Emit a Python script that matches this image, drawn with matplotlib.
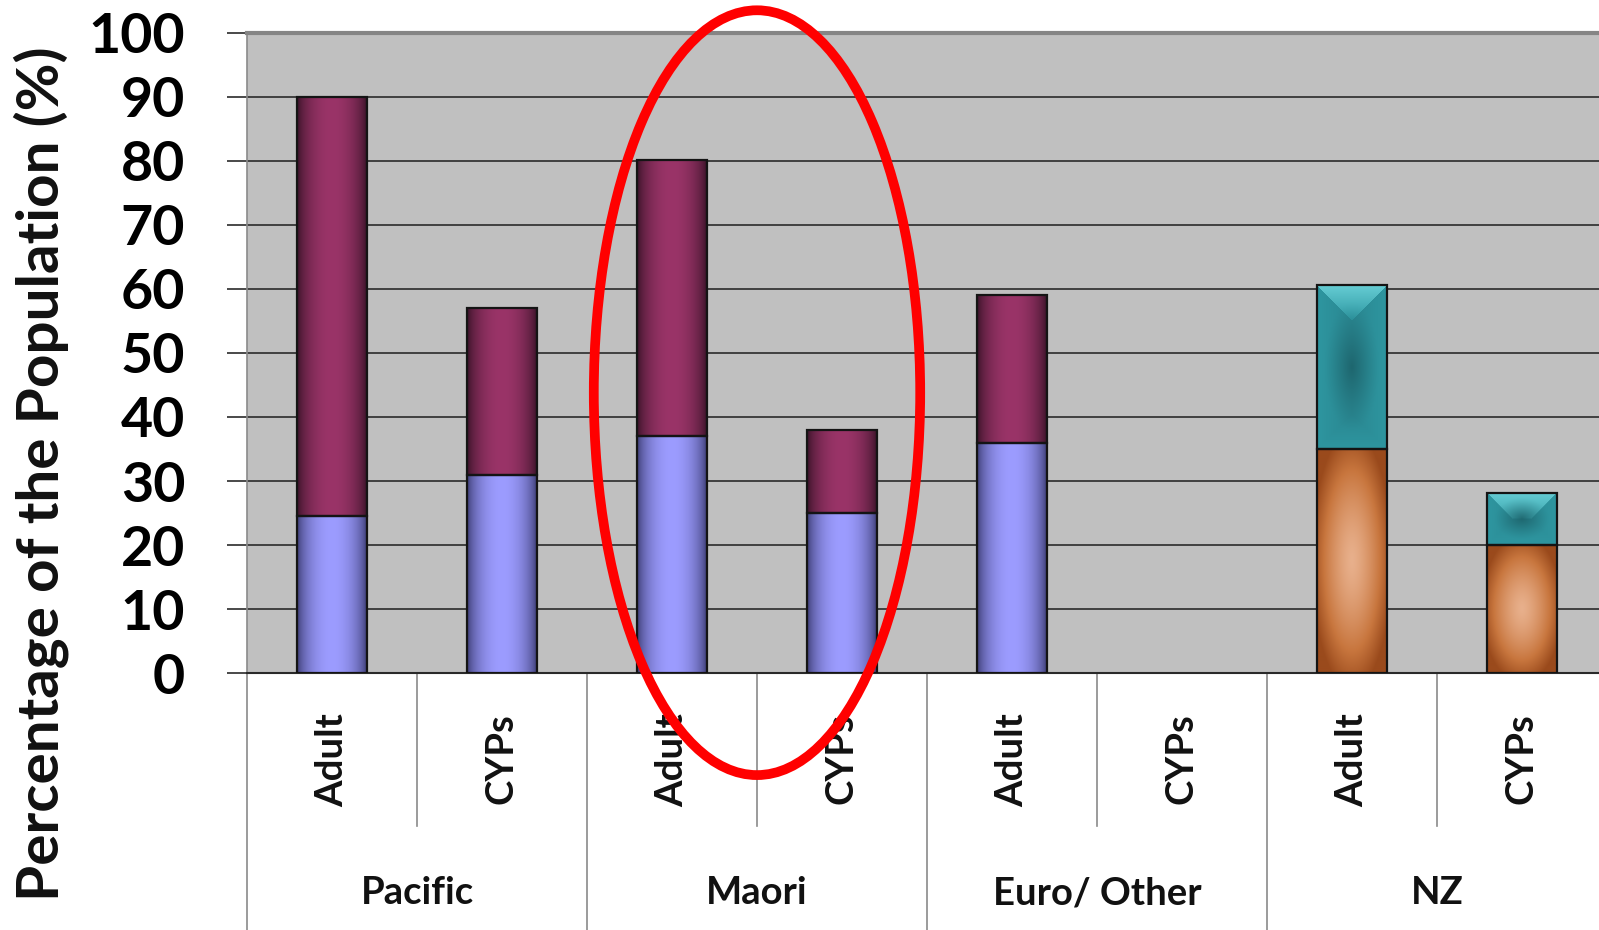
import numpy as np
import matplotlib.pyplot as plt
import matplotlib.transforms as mtransforms
from matplotlib.patches import Ellipse
from matplotlib.colors import to_rgb

plt.rcParams['font.family'] = ['Lato', 'DejaVu Sans']
plt.rcParams['font.weight'] = 'bold'

groups = ['Pacific', 'Maori', 'Euro/ Other', 'NZ']
ages = ['Adult', 'CYPs']
# lower and upper segment of each stacked bar, in group order
lower = [24.5, 31.0, 37.0, 25.0, 36.0, 0.0, 35.0, 20.0]
upper = [65.5, 26.0, 43.2, 13.0, 23.0, 0.0, 25.6, 8.2]
lower_style = ['blue'] * 6 + ['orange'] * 2
upper_style = ['maroon'] * 6 + ['teal'] * 2


def lerp(c1, c2, t):
    c1 = np.array(to_rgb(c1))
    c2 = np.array(to_rgb(c2))
    t = np.clip(t, 0, 1)[..., None]
    return c1 * (1 - t) + c2 * t


def bar_texture(style, wpx, hpx):
    nx = max(int(round(wpx)), 2)
    ny = max(int(round(hpx)), 2)
    X, Y = np.meshgrid(np.arange(nx) + 0.5, np.arange(ny) + 0.5)
    u = X / nx * 2 - 1
    v = Y / ny * 2 - 1
    if style in ('blue', 'maroon'):
        # cylinder shading across the bar
        light, dark = ('#9C9CFF', '#2E2E5E') if style == 'blue' else ('#9A3468', '#2A0E1E')
        f = np.cos(u * np.pi / 2) ** 0.55
        return lerp(dark, light, f)
    if style == 'orange':
        r = np.sqrt((u * 1.0) ** 2 + v ** 2)
        col = lerp('#E8B08C', '#C8763E', np.clip(r / 0.8, 0, 1) ** 1.4)
        edge = np.clip((r - 0.8) / 0.35, 0, 1)
        return col * (1 - edge[..., None]) + np.array(to_rgb('#9A4A1C')) * edge[..., None]
    # teal: bevelled pyramid
    d = np.stack([ny - Y, Y, X, nx - X])
    face = np.argmin(d, axis=0)
    depth = d.min(axis=0) / (nx / 2)
    top = lerp('#66CDD4', '#2E98A2', depth)
    side = lerp('#2E96A0', '#2A8791', depth)
    base = np.where((face == 0)[..., None], top, side)
    r = np.sqrt(u ** 2 + v ** 2)
    t = np.clip(1 - r / 0.8, 0, 1) ** 1.3 * 0.8
    centre = np.array(to_rgb('#1B5E66'))
    return base * (1 - t[..., None]) + centre * t[..., None]


fig = plt.figure(figsize=(15.99, 9.30), dpi=100)
ax = fig.add_axes([247 / 1599, 257 / 930, 1360 / 1599, 640 / 930])
ax.set_xlim(-0.5, 7.5)
ax.set_ylim(0, 100)
ax.set_facecolor('#C0C0C0')

x = np.arange(len(lower))
bw = 0.41
lo_bars = ax.bar(x, lower, bw, facecolor='none', edgecolor='#141414', lw=1.6, zorder=4)
hi_bars = ax.bar(x, upper, bw, bottom=lower, facecolor='none', edgecolor='#141414',
                 lw=1.6, zorder=4)

for bars, styles in ((lo_bars, lower_style), (hi_bars, upper_style)):
    for patch, style in zip(bars.patches, styles):
        if patch.get_height() <= 0:
            patch.set_visible(False)
            continue
        x0, y0 = patch.get_x(), patch.get_y()
        w, h = patch.get_width(), patch.get_height()
        p0 = ax.transData.transform((x0, y0))
        p1 = ax.transData.transform((x0 + w, y0 + h))
        img = bar_texture(style, p1[0] - p0[0], p1[1] - p0[1])
        im = ax.imshow(img, extent=[x0, x0 + w, y0, y0 + h], origin='lower',
                       aspect='auto', interpolation='bilinear', zorder=3)
        im.set_clip_path(patch)

ax.set_xlim(-0.5, 7.5)
ax.set_ylim(0, 100)

ax.set_yticks(np.arange(0, 101, 10))
ax.yaxis.grid(True, color='#2A2A2A', lw=1.2)
ax.set_axisbelow(True)
ax.tick_params(axis='y', direction='out', length=14.5, width=1.2, color='#2A2A2A',
               pad=30, labelsize=40)
ax.set_xticks([])
for lab in ax.get_yticklabels():
    lab.set_fontweight('bold')

ax.spines['right'].set_visible(False)
ax.spines['top'].set_color('#858585')
ax.spines['top'].set_linewidth(3)
ax.spines['left'].set_color('#8A8A8A')
ax.spines['left'].set_linewidth(1.2)
ax.spines['bottom'].set_color('#2A2A2A')
ax.spines['bottom'].set_linewidth(1.5)

# two-level category axis below the plot
trans = mtransforms.blended_transform_factory(ax.transData, ax.transAxes)
for i in range(len(lower) + 1):
    xe = i - 0.5
    bottom = -0.42 if i % 2 == 0 else -0.239
    ax.plot([xe, xe], [0, bottom], transform=trans, color='#8A8A8A', lw=1.2,
            clip_on=False)
for i in range(len(lower)):
    ax.text(x[i], -0.0625, ages[i % 2], transform=trans, rotation=90, ha='center',
            va='top', fontsize=27.5, fontweight='bold', color='#111111')
for g, name in enumerate(groups):
    ax.text(2 * g + 0.5, -0.344, name, transform=trans, ha='center', va='center',
            fontsize=27.5, fontweight='bold', color='#111111')

fig.text(41 / 1599, 1 - 474 / 930, 'Percentage of the Population (%)', rotation=90,
         ha='center', va='center', fontsize=42, fontweight='bold', color='#111111')

# highlight around the Maori pair
ax.add_patch(Ellipse((2.5, 43.8), 1.92, 119.5, fill=False, edgecolor='#FF0000',
                     lw=7, clip_on=False, zorder=10))

fig.savefig('out.png', dpi=100)
